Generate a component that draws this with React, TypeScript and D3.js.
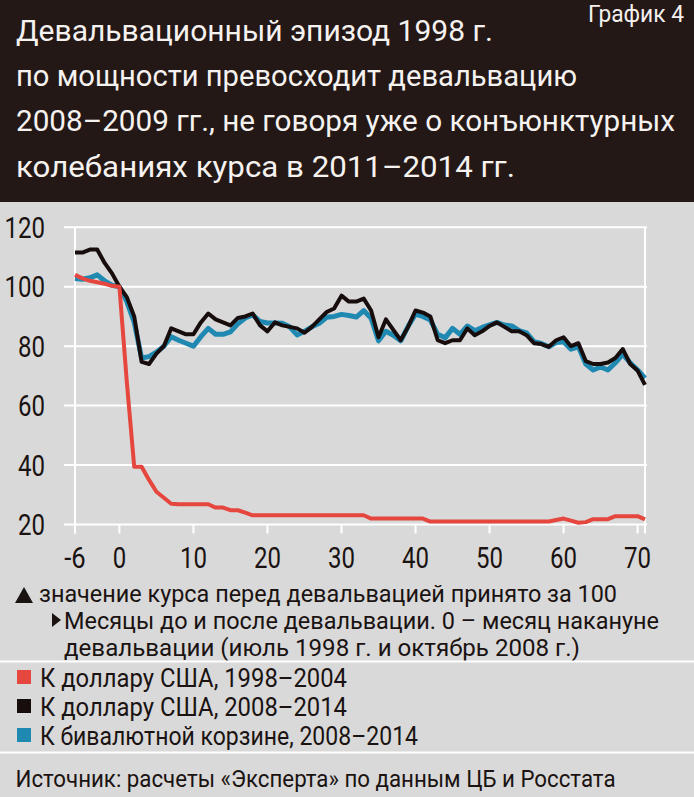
import React from "react";
import * as d3 from "d3";

// ---- data ----
const startMonth = -6;
const xTicks = [-6, 0, 10, 20, 30, 40, 50, 60, 70];
const yTicks = [20, 40, 60, 80, 100, 120];

// К доллару США, 1998–2004 (months -6..71)
const usd1998 = [
  104, 102.8, 102, 101.5, 101, 100.3, 100, 68, 39.4, 39.4, 35, 31, 29, 27, 26.8, 26.8, 26.8, 26.8, 26.8, 25.7,
  25.7, 24.8, 24.8, 24, 23.1, 23.1, 23.1, 23.1, 23.1, 23.1, 23.1, 23.1, 23.1, 23.1, 23.1, 23.1, 23.1, 23.1, 23.1,
  23.1, 22, 22, 22, 22, 22, 22, 22, 22, 21, 21, 21, 21, 21, 21, 21, 21, 21, 21, 21, 21, 21, 21, 21, 21, 21, 21.5,
  22, 21.3, 20.6, 20.8, 21.8, 21.8, 21.8, 22.8, 22.8, 22.8, 22.8, 21.7,
];

// К доллару США, 2008–2014
const usd2008 = [
  111.5, 111.5, 112.5, 112.5, 108, 104.5, 100, 96.5, 90, 74.7, 74, 77.5, 80, 86, 85, 84, 84, 88, 91, 89,
  88, 87, 89.5, 90, 91, 87, 85, 88, 87, 86.5, 86, 84.5, 86.5, 89, 91.5, 92.7, 97, 95, 95, 96,
  92, 83, 89, 85.5, 82, 86.5, 92, 91.3, 90, 82, 81, 82, 82, 86, 83.7, 85, 86.8, 88, 86.5, 85,
  85, 83.7, 81, 80.7, 79.8, 82, 83, 80, 81, 75, 74, 74, 74.5, 76, 79, 74, 71.8, 67,
];

// К бивалютной корзине, 2008–2014
const basket2008 = [
  102.8, 102.5, 103, 104, 102, 100.5, 100, 95, 88, 76, 76.5, 78, 80, 83.2, 82, 81, 80, 83.2, 86, 84,
  84, 84.8, 87.5, 89.5, 90.5, 88.3, 87.8, 87.8, 87.7, 86.5, 83.8, 85, 86.5, 87.7, 89.7, 90, 90.7, 90.3, 89.8, 92,
  89.4, 81.8, 85, 83.7, 81.8, 86.7, 90.8, 90, 88.8, 84, 82.8, 86, 84, 86.8, 85.2, 86.3, 87.2, 88, 87.1, 86.8,
  85.2, 84.5, 81.5, 80.9, 79.8, 81.2, 81.5, 79, 79.8, 74, 72, 73, 72, 74.4, 77.3, 74.4, 72, 69.2,
];

const titleLines = [
  "Девальвационный эпизод 1998 г.",
  "по мощности превосходит девальвацию",
  "2008–2009 гг., не говоря уже о конъюнктурных",
  "колебаниях курса в 2011–2014 гг.",
];
const titleWidths = [477, 561, 659, 499];
const chartLabel = "График 4";

const notes = [
  "значение курса перед девальвацией принято за 100",
  "Месяцы до и после девальвации. 0 – месяц накануне",
  "девальвации (июль 1998 г. и октябрь 2008 г.)",
];
const noteWidths = [578, 595, 516];

const legendItems = [
  { label: "К доллару США, 1998–2004", color: "#e5473f", width: 307 },
  { label: "К доллару США, 2008–2014", color: "#170d0c", width: 307 },
  { label: "К бивалютной корзине, 2008–2014", color: "#1f89b2", width: 378 },
];
const source = "Источник:  расчеты «Эксперта» по данным ЦБ и Росстата";

const FONT = "Roboto, 'Liberation Sans', sans-serif";

export default function App() {
  const W = 694;
  const H = 797;
  const x = d3.scaleLinear().domain([-6, 71]).range([75, 645]);
  const y = d3.scaleLinear().domain([20, 120]).range([524.5, 227.3]);

  const toPts = (arr: number[]) => arr.map((v, i) => [startMonth + i, v] as [number, number]);
  const line = d3
    .line<[number, number]>()
    .x((d) => x(d[0]))
    .y((d) => y(d[1]))
    .curve(d3.curveLinear);

  const tickW = (s: string) => s.replace("-", "").length * 13.5 + (s.includes("-") ? 8 : 0);

  const gridLeft = 64;
  const gridRight = 647;
  const axisTop = y(120);
  const axisBottom = y(20) + 9;
  const ink = "#1a1311";

  return (
    <svg
      width={W}
      height={H}
      viewBox={`0 0 ${W} ${H}`}
      style={{ position: "absolute", left: 0, top: 0, display: "block" }}
      fontFamily={FONT}
    >
      <rect x={0} y={0} width={W} height={H} fill="#d9d9d9" />
      <rect x={0} y={0} width={W} height={202} fill="#231816" />

      {/* Title */}
      <text x={684} y={22} fontSize={23} fill="#f4efed" textAnchor="end" textLength={96} lengthAdjust="spacingAndGlyphs">
        {chartLabel}
      </text>
      {titleLines.map((t, i) => (
        <text
          key={i}
          x={16}
          y={40.7 + i * 45.3}
          fontSize={29}
          fill="#f6f2f0"
          textLength={titleWidths[i]}
          lengthAdjust="spacingAndGlyphs"
        >
          {t}
        </text>
      ))}

      {/* Grid */}
      {yTicks.map((t) => (
        <line key={t} x1={gridLeft} x2={gridRight} y1={y(t)} y2={y(t)} stroke="#ffffff" strokeWidth={2} />
      ))}
      <line x1={x(-6)} x2={x(-6)} y1={axisTop} y2={axisBottom} stroke="#ffffff" strokeWidth={2} />
      <line x1={x(71)} x2={x(71)} y1={axisTop} y2={axisBottom} stroke="#ffffff" strokeWidth={2} />
      {xTicks.map((t) => (
        <line key={t} x1={x(t)} x2={x(t)} y1={y(20)} y2={axisBottom} stroke="#ffffff" strokeWidth={2} />
      ))}

      {/* Y tick labels */}
      {yTicks.map((t) => (
        <text
          key={t}
          x={45}
          y={y(t)}
          dy="0.36em"
          fontSize={29}
          fill={ink}
          textAnchor="end"
          textLength={tickW(String(t))}
          lengthAdjust="spacingAndGlyphs"
        >
          {t}
        </text>
      ))}
      {/* X tick labels */}
      {xTicks.map((t) => (
        <text
          key={t}
          x={x(t)}
          y={568}
          fontSize={29}
          fill={ink}
          textAnchor="middle"
          textLength={tickW(String(t))}
          lengthAdjust="spacingAndGlyphs"
        >
          {t}
        </text>
      ))}

      {/* Series */}
      <path d={line(toPts(basket2008)) || ""} fill="none" stroke="#1f89b2" strokeWidth={5} strokeLinejoin="round" />
      <path d={line(toPts(usd2008)) || ""} fill="none" stroke="#170d0c" strokeWidth={4} strokeLinejoin="round" />
      <path d={line(toPts(usd1998)) || ""} fill="none" stroke="#e5473f" strokeWidth={4} strokeLinejoin="round" />

      {/* Notes */}
      <polygon points="15,603 24,587 33,603" fill={ink} />
      <polygon points="52,613 61,620 52,627" fill={ink} />
      {notes.map((n, i) => (
        <text
          key={i}
          x={i === 0 ? 39 : 64}
          y={602 + i * 27}
          fontSize={24}
          fill={ink}
          textLength={noteWidths[i]}
          lengthAdjust="spacingAndGlyphs"
        >
          {n}
        </text>
      ))}

      <line x1={0} x2={W} y1={661.5} y2={661.5} stroke="#ffffff" strokeWidth={2} />

      {/* Legend */}
      {legendItems.map((it, i) => (
        <g key={i} transform={`translate(0, ${i * 29})`}>
          <rect x={17} y={670} width={14} height={14} fill={it.color} />
          <text x={40} y={687} fontSize={25} fill={ink} textLength={it.width} lengthAdjust="spacingAndGlyphs">
            {it.label}
          </text>
        </g>
      ))}

      <line x1={0} x2={W} y1={752.5} y2={752.5} stroke="#ffffff" strokeWidth={2} />

      <text x={15.5} y={787} fontSize={24} fill={ink} textLength={600} lengthAdjust="spacingAndGlyphs">
        {source}
      </text>
    </svg>
  );
}
